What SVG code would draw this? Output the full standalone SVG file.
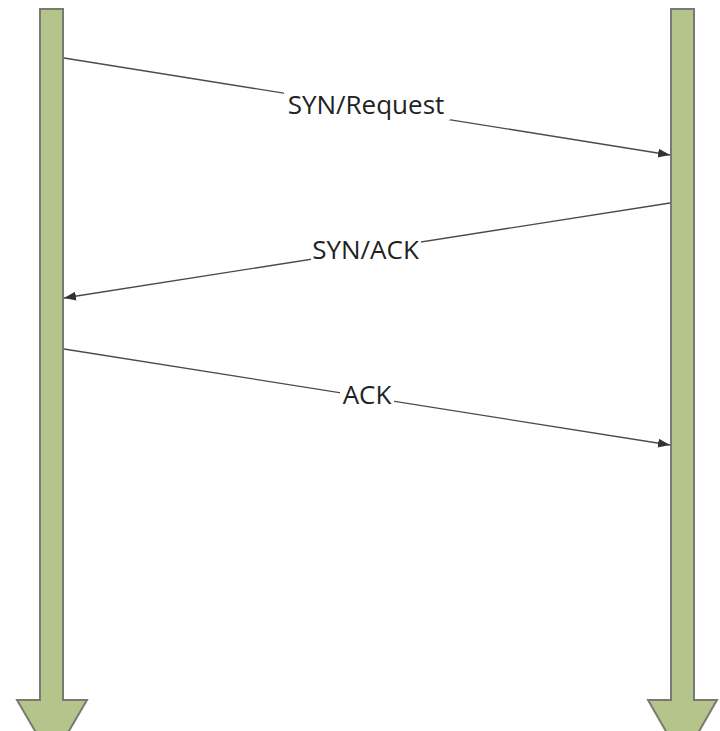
<svg xmlns="http://www.w3.org/2000/svg" width="720" height="731" viewBox="0 0 720 731">
<style>
.life{fill:#b5c48b;stroke:#7a7a72;stroke-width:2}
.msg{stroke:#4a4a4a;stroke-width:1.4;fill:none;marker-end:url(#ah)}
.lbl{font-family:"Open Sans",sans-serif;font-size:26px;fill:#222;text-anchor:middle}
.bg{fill:#fff}
</style>
<defs>
<marker id="ah" viewBox="0 0 12 9" refX="12" refY="4.5" markerWidth="12" markerHeight="9" markerUnits="userSpaceOnUse" orient="auto">
<path d="M0,0 L12,4.5 L0,9 Z" fill="#333"/>
</marker>
</defs>
<g id="left-lifeline">
<path class="life" d="M40,9 H63 V700 H87 L52,760 L17,700 H40 Z"/>
</g>
<g id="right-lifeline">
<path class="life" d="M671,9 H694 V700 H717 L682.5,760 L648,700 H671 Z"/>
</g>
<g id="connectors">
<line class="msg" x1="64" y1="58" x2="670" y2="155"/>
<line class="msg" x1="670" y1="203" x2="64" y2="298"/>
<line class="msg" x1="64" y1="349" x2="670" y2="445"/>
</g>
<g id="label-syn-request">
<rect class="bg" x="284" y="92" width="166" height="28"/>
<text class="lbl" x="366" y="114">SYN/Request</text>
</g>
<g id="label-syn-ack">
<rect class="bg" x="311" y="238" width="110" height="26"/>
<text class="lbl" x="365.5" y="259">SYN/ACK</text>
</g>
<g id="label-ack">
<rect class="bg" x="340" y="383" width="54" height="26"/>
<text class="lbl" x="367" y="404">ACK</text>
</g>
</svg>
